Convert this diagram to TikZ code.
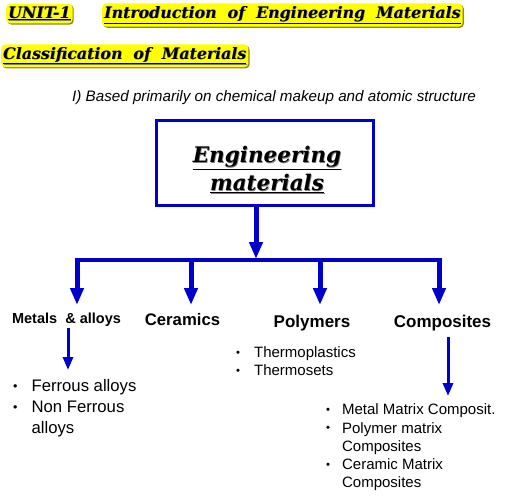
\documentclass[tikz,border=0pt]{standalone}
\usepackage{fontspec}
\setmainfont{Liberation Sans}
\newfontfamily\hd{DejaVu Serif}
\usetikzlibrary{arrows.meta,shadows}
\definecolor{bl}{RGB}{0,0,204}
\definecolor{hl}{RGB}{255,255,0}
\definecolor{hlshadow}{RGB}{140,140,20}
\newcommand{\bul}{\raisebox{0.1em}{\scalebox{0.75}{\textbullet}}}
\newcommand{\shd}[1]{\leavevmode\rlap{\kern0.7pt\raisebox{-0.7pt}{\textcolor{black!50}{#1}}}#1}
\begin{document}
\begin{tikzpicture}[x=1pt,y=-1pt,
  head/.style={anchor=base west,fill=hl,rounded corners=4pt,inner xsep=2pt,inner ysep=2.5pt,
    drop shadow={shadow xshift=1.2pt,shadow yshift=-1.2pt,fill=hlshadow,opacity=1},
    font=\hd\bfseries\itshape\fontsize{15.8}{19}\selectfont},
  mainbox/.style={draw=bl,line width=3pt,minimum width=217pt,minimum height=85pt},
  engtext/.style={align=center,inner sep=0pt,font=\hd\bfseries\itshape\fontsize{21.5}{28}\selectfont},
  cat/.style={inner sep=0pt},
  bigarrow/.style={draw=bl,line width=5pt,-{Triangle[width=13pt,length=17pt]}},
  smallarrow/.style={draw=bl,line width=3pt,-{Triangle[width=10pt,length=13pt]}},
  bar/.style={draw=bl,line width=4pt},
  list/.style={anchor=north west,inner sep=0pt,align=left}
]
\useasboundingbox (0,0) rectangle (508,498);
% headings
\node[head] (unit) at (6,18) {\shd{\underline{UNIT-1}}};
\node[head] (intro) at (102,18) {\shd{\underline{Introduction\ \ of\ \ Engineering\ \ Materials}}};
\node[head] (class) at (1,59) {\shd{\underline{Classification\ \ of\ \ Materials}}};
\node[anchor=base west,inner sep=0pt,font=\itshape\fontsize{15.2}{18}\selectfont] (sub) at (72,101)
  {I) Based primarily on chemical makeup and atomic structure};
% main box
\node[mainbox] (eng) at (265,163) {};
\node[engtext] (engt) at (267,170) {\shd{\underline{Engineering}}\\\shd{\underline{materials}}};
% junction and bar
\coordinate (j) at (256,260);
\coordinate (b1) at (77,260);
\coordinate (b2) at (191,260);
\coordinate (b3) at (320,260);
\coordinate (b4) at (439,260);
\coordinate (tips) at (0,305);
\draw[bigarrow] (j |- eng.south) -- (256,259);
\draw[bar] ([xshift=-2.5pt]b1) -- ([xshift=2.5pt]b4);
% categories
\node[cat,font=\bfseries\fontsize{14.5}{18}\selectfont] (metals) at (66.5,320) {Metals\ \ \& alloys};
\node[cat,font=\bfseries\fontsize{16.7}{19}\selectfont] (ceram) at (182.5,320) {Ceramics};
\node[cat,font=\bfseries\fontsize{17}{19}\selectfont] (poly) at (312,323) {Polymers};
\node[cat,font=\bfseries\fontsize{17}{19}\selectfont] (comp) at (442.5,323) {Composites};
\draw[bigarrow] (b1) -- (b1 |- tips);
\draw[bigarrow] (b2) -- (b2 |- tips);
\draw[bigarrow] (b3) -- (b3 |- tips);
\draw[bigarrow] (b4) -- (b4 |- tips);
% lists
\node[list,font=\fontsize{16.7}{21}\selectfont] (mlist) at (13,377)
  {\begin{tabular}{@{}l@{\hspace{14pt}}l@{}}\bul & Ferrous alloys\\ \bul & Non Ferrous\\ & alloys\end{tabular}};
\node[list,font=\fontsize{15}{18}\selectfont] (plist) at (236,345)
  {\begin{tabular}{@{}l@{\hspace{14pt}}l@{}}\bul & Thermoplastics\\ \bul & Thermosets\end{tabular}};
\node[list,font=\fontsize{15}{18.25}\selectfont] (clist) at (326,402)
  {\begin{tabular}{@{}l@{\hspace{12pt}}l@{}}\bul & Metal Matrix Composit.\\ \bul & Polymer matrix\\ & Composites\\ \bul & Ceramic Matrix\\ & Composites\end{tabular}};
\coordinate (ma) at (68,370);
\coordinate (ca) at (448,396);
\draw[smallarrow,shorten <=1pt] (metals.south -| ma) -- (ma);
\draw[smallarrow,shorten <=6pt] (comp.south -| ca) -- (ca);
\end{tikzpicture}
\end{document}
